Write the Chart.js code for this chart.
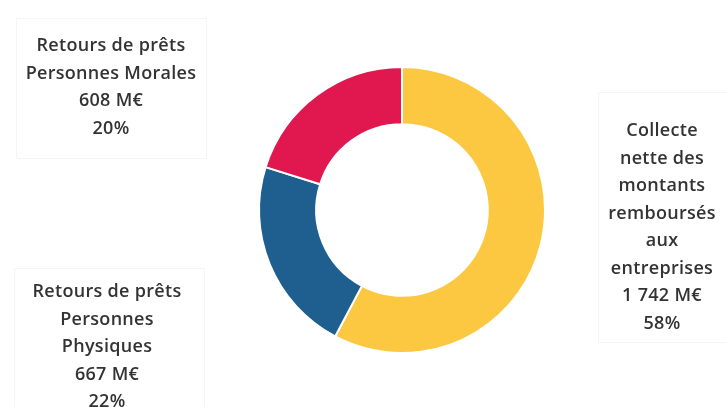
<!DOCTYPE html>
<html>
<head>
<meta charset="utf-8">
<script src="https://cdn.jsdelivr.net/npm/chart.js@4/dist/chart.umd.min.js"></script>
<style>
  html, body { margin: 0; padding: 0; background: #fff; }
  #wrap { width: 726px; height: 407px; position: relative; }
</style>
</head>
<body>
<div id="wrap"><canvas id="ChartCollecte"></canvas></div>
<script>
// categories (label lines) and values in M€
const categories = [
    ["Collecte", "nette des", "montants", "remboursés", "aux", "entreprises"],
    ["Retours de prêts", "Personnes", "Physiques"],
    ["Retours de prêts", "Personnes Morales"],
];
const montants = [1742, 667, 608];
const couleurs = ["#FCC841", "#1E5F90", "#E0184F"];

// where each label block sits (centre x, first baseline y)
const labelPos = [
    { x: 662, y: 136, box: [598, 92, 128, 250] },
    { x: 107, y: 297, box: [14, 268, 190, 139] },
    { x: 111, y: 51, box: [16, 18, 190, 140] },
];

const total = montants.reduce((a, b) => a + b, 0);

function formatMontant(v) {
    return v.toLocaleString("fr-FR").replace(/\s/g, " ") + " M€";
}

const labelPlugin = {
    id: "calloutLabels",
    afterDraw(chart) {
        const ctx = chart.ctx;
        ctx.save();
        montants.forEach((v, i) => {
            const p = labelPos[i];
            // faint scanned box edges
            ctx.strokeStyle = "rgba(0,0,0,0.04)";
            ctx.lineWidth = 1;
            ctx.strokeRect(p.box[0] + 0.5, p.box[1] + 0.5, p.box[2], p.box[3]);

            const lines = categories[i].concat([
                formatMontant(v),
                Math.round((v / total) * 100) + "%",
            ]);
            ctx.fillStyle = "#333333";
            ctx.font = "600 18px 'Open Sans', Lato, sans-serif";
            ctx.letterSpacing = "0.3px";
            ctx.textAlign = "center";
            ctx.textBaseline = "alphabetic";
            lines.forEach((line, j) => {
                ctx.fillText(line, p.x, p.y + j * 27.5);
            });
        });
        ctx.restore();
    },
};

new Chart(document.getElementById("ChartCollecte"), {
    type: "doughnut",
    data: {
        labels: categories.map((c) => c.join(" ")),
        datasets: [
            {
                data: montants,
                backgroundColor: couleurs,
                borderColor: "#ffffff",
                borderWidth: 2,
            },
        ],
    },
    options: {
        responsive: true,
        maintainAspectRatio: false,
        animation: false,
        cutout: "60%",
        layout: {
            padding: { left: 258, right: 180, top: 66, bottom: 53 },
        },
        plugins: {
            legend: { display: false },
            tooltip: { enabled: false },
        },
    },
    plugins: [labelPlugin],
});
</script>
</body>
</html>
